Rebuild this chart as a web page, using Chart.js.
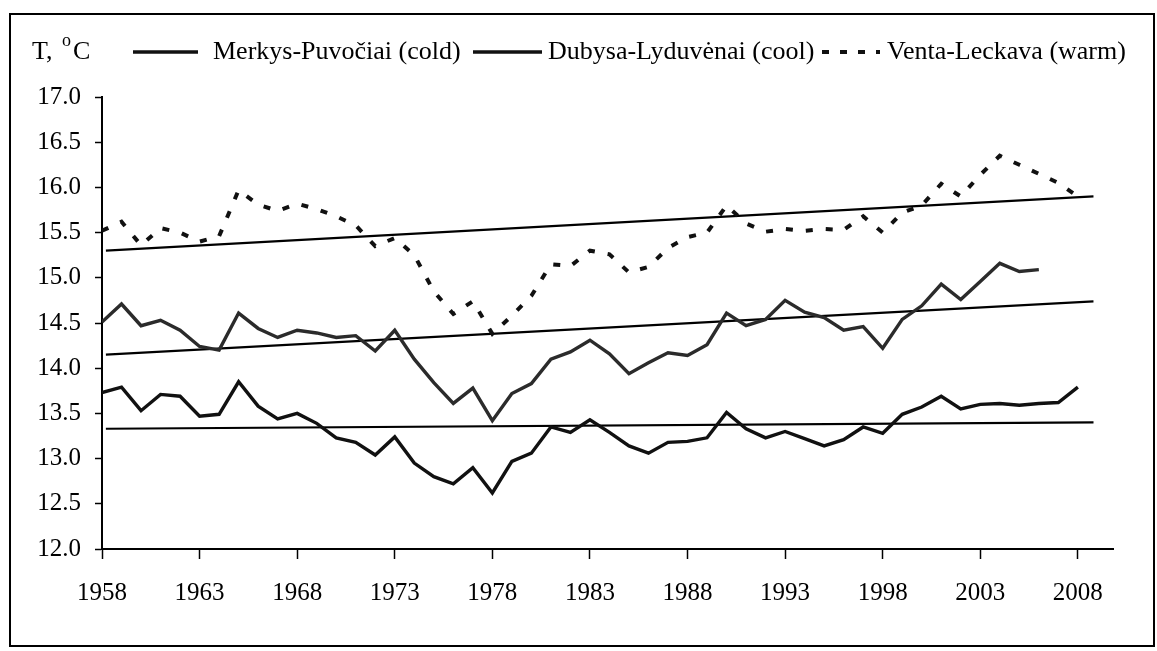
<!DOCTYPE html>
<html>
<head>
<meta charset="utf-8">
<script src="https://cdn.jsdelivr.net/npm/chart.js@4.4.1/dist/chart.umd.min.js"></script>
<style>
html,body{margin:0;padding:0;background:#fff;}
#wrap{width:1157px;height:651px;position:relative;}
</style>
</head>
<body>
<div id="wrap"><canvas id="c" width="1157" height="651"></canvas></div>
<script>
const years = [1958,1959,1960,1961,1962,1963,1964,1965,1966,1967,1968,1969,1970,1971,1972,1973,1974,1975,1976,1977,1978,1979,1980,1981,1982,1983,1984,1985,1986,1987,1988,1989,1990,1991,1992,1993,1994,1995,1996,1997,1998,1999,2000,2001,2002,2003,2004,2005,2006,2007,2008];
const coldValues = [13.73,13.79,13.53,13.71,13.69,13.47,13.49,13.85,13.58,13.44,13.50,13.39,13.23,13.18,13.04,13.24,12.95,12.80,12.72,12.90,12.62,12.97,13.06,13.35,13.29,13.43,13.29,13.14,13.06,13.18,13.19,13.23,13.51,13.33,13.23,13.30,13.22,13.14,13.21,13.35,13.28,13.49,13.57,13.69,13.55,13.60,13.61,13.59,13.61,13.62,13.79];
const coolValues = [14.51,14.71,14.47,14.53,14.42,14.24,14.20,14.61,14.44,14.34,14.42,14.39,14.34,14.36,14.19,14.42,14.10,13.84,13.61,13.78,13.42,13.72,13.83,14.10,14.18,14.31,14.16,13.94,14.06,14.17,14.14,14.26,14.61,14.47,14.54,14.75,14.62,14.56,14.42,14.46,14.22,14.54,14.69,14.93,14.76,14.96,15.16,15.07,15.09,null,null];
const warmValues = [15.52,15.62,15.36,15.55,15.50,15.40,15.46,15.97,15.81,15.74,15.82,15.76,15.68,15.58,15.35,15.44,15.25,14.85,14.60,14.74,14.38,14.58,14.80,15.15,15.13,15.30,15.26,15.06,15.12,15.33,15.45,15.50,15.80,15.60,15.51,15.54,15.52,15.54,15.53,15.68,15.50,15.72,15.80,16.04,15.90,16.14,16.35,16.25,16.15,16.05,15.90];
const trendYears = [1958.2, 2008.8];
const coldTrend = [13.33, 13.40];
const coolTrend = [14.15, 14.74];
const warmTrend = [15.30, 15.90];
const seriesNames = ['Merkys-Puvočiai (cold)', 'Dubysa-Lyduvėnai (cool)', 'Venta-Leckava (warm)'];
const yAxisTitle = ['T, ', 'o', 'C'];
const xTickYears = [1958,1963,1968,1973,1978,1983,1988,1993,1998,2003,2008];
const yTickValues = [12.0,12.5,13.0,13.5,14.0,14.5,15.0,15.5,16.0,16.5,17.0];

const pts = (xs, ys) => xs.map((x, i) => ({x: x, y: ys[i]}));
const FONT = '"Liberation Serif", "Times New Roman", serif';

const frame = {
  id: 'frame',
  beforeDraw(chart) {
    const ctx = chart.ctx;
    ctx.save();
    ctx.fillStyle = '#fff';
    ctx.fillRect(0, 0, chart.width, chart.height);
    ctx.restore();
  },
  afterDraw(chart) {
    const ctx = chart.ctx;
    ctx.save();
    ctx.strokeStyle = '#000';
    ctx.lineWidth = 2;
    ctx.strokeRect(10, 14, 1144, 632);
    ctx.fillStyle = '#000';
    ctx.textBaseline = 'middle';
    ctx.textAlign = 'left';
    const ly = 52;
    ctx.font = '26px ' + FONT;
    ctx.fillText(yAxisTitle[0], 32, ly);
    ctx.font = '18px ' + FONT;
    ctx.fillText(yAxisTitle[1], 62, ly - 11);
    ctx.font = '26px ' + FONT;
    ctx.fillText(yAxisTitle[2], 73, ly);
    // legend samples
    ctx.strokeStyle = '#111';
    ctx.lineWidth = 3.5;
    ctx.beginPath(); ctx.moveTo(133, ly); ctx.lineTo(198, ly); ctx.stroke();
    ctx.beginPath(); ctx.moveTo(473, ly); ctx.lineTo(542, ly); ctx.stroke();
    ctx.lineWidth = 4;
    ctx.setLineDash([7, 11]);
    ctx.beginPath(); ctx.moveTo(822, ly); ctx.lineTo(880, ly); ctx.stroke();
    ctx.setLineDash([]);
    ctx.font = '26px ' + FONT;
    ctx.fillText(seriesNames[0], 213, ly);
    ctx.fillText(seriesNames[1], 548, ly);
    ctx.fillText(seriesNames[2], 887, ly);
    ctx.restore();
  }
};

const lineBase = {pointRadius: 0, tension: 0, fill: false, borderCapStyle: 'butt', borderJoinStyle: 'miter'};

new Chart(document.getElementById('c'), {
  type: 'line',
  data: {
    datasets: [
      Object.assign({label: seriesNames[0], data: pts(years, coldValues), borderColor: '#111', borderWidth: 3.4}, lineBase),
      Object.assign({label: seriesNames[1], data: pts(years, coolValues), borderColor: '#2b2b2b', borderWidth: 3.4}, lineBase),
      Object.assign({label: seriesNames[2], data: pts(years, warmValues), borderColor: '#111', borderWidth: 4, borderDash: [7, 13]}, lineBase),
      Object.assign({label: 'trend cold', data: pts(trendYears, coldTrend), borderColor: '#000', borderWidth: 2.2}, lineBase),
      Object.assign({label: 'trend cool', data: pts(trendYears, coolTrend), borderColor: '#000', borderWidth: 2.2}, lineBase),
      Object.assign({label: 'trend warm', data: pts(trendYears, warmTrend), borderColor: '#000', borderWidth: 2.2}, lineBase)
    ]
  },
  options: {
    responsive: false,
    animation: false,
    events: [],
    layout: {padding: {left: 0, top: 97, right: 44, bottom: 42}},
    plugins: {legend: {display: false}, tooltip: {enabled: false}, title: {display: false}},
    scales: {
      x: {
        type: 'linear',
        min: 1958,
        max: 2009.8,
        afterBuildTicks: s => { s.ticks = xTickYears.map(v => ({value: v})); },
        afterFit: s => { s.height = 60; },
        ticks: {font: {family: FONT, size: 25}, color: '#000', padding: 19, maxRotation: 0, autoSkip: false, callback: v => String(v)},
        grid: {display: true, drawOnChartArea: false, drawTicks: true, tickLength: 10, tickColor: '#000', tickWidth: 1.5},
        border: {display: true, color: '#000', width: 2}
      },
      y: {
        type: 'linear',
        min: 12,
        max: 17,
        afterBuildTicks: s => { s.ticks = yTickValues.map(v => ({value: v})); },
        afterFit: s => { s.width = 102; },
        ticks: {font: {family: FONT, size: 25}, color: '#000', padding: 14, autoSkip: false, callback: v => Number(v).toFixed(1)},
        grid: {display: true, drawOnChartArea: false, drawTicks: true, tickLength: 7, tickColor: '#000', tickWidth: 1.5},
        border: {display: true, color: '#000', width: 2}
      }
    }
  },
  plugins: [frame]
});
</script>
</body>
</html>
